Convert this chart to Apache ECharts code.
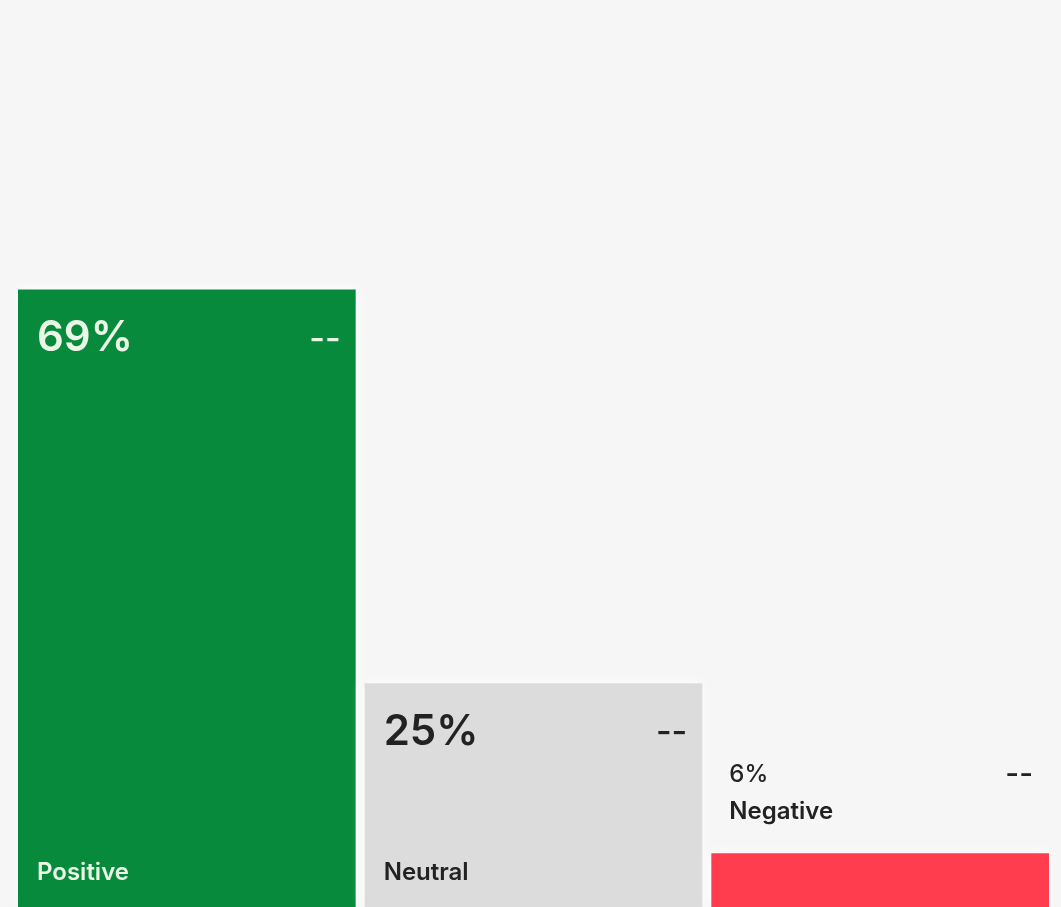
<!DOCTYPE html>
<html>
<head>
<meta charset="utf-8">
<title>Sentiment breakdown</title>
<script src="https://cdn.jsdelivr.net/npm/echarts@6/dist/echarts.min.js"></script>
<style>
  html, body { margin: 0; padding: 0; background: #f6f6f6; }
  #chart { width: 1061px; height: 907px; }
</style>
</head>
<body>
<div id="chart"></div>
<script>
// Sentiment categories and their shares (percent)
const categories = ['Positive', 'Neutral', 'Negative'];
const shares = [69, 25, 6];
const changeLabels = ['--', '--', '--'];

// Visual styling per category
const barColors = ['#078a3c', '#dcdcdc', '#ff3d4f'];
const textColors = ['#eaf6e6', '#222222', '#222222'];

const chart = echarts.init(document.getElementById('chart'), null, { renderer: 'canvas' });

const GAP = 9;          // space between neighbouring bars
const INSIDE_MIN = 120; // bars shorter than this carry their labels above

function renderBar(params, api) {
  const idx = api.value(0);
  const val = api.value(1);
  const base = api.coord([idx, 0]);
  const top = api.coord([idx, val]);
  const band = api.size([1, 0])[0];
  const w = band - GAP;
  const x = base[0] - w / 2;
  const h = base[1] - top[1];
  const color = barColors[idx];
  const tColor = textColors[idx];
  const font = 'Inter, "Noto Sans", sans-serif';

  const children = [{
    type: 'rect',
    shape: { x: x, y: top[1], width: w, height: h },
    style: { fill: color, shadowBlur: 12, shadowColor: 'rgba(255,255,255,1)' }
  }];

  const text = (tx, ty, str, f, align) => ({
    type: 'text',
    style: {
      x: tx, y: ty, text: str, fill: tColor, font: f + ' ' + font,
      textAlign: align, textVerticalAlign: 'middle'
    }
  });

  if (h > INSIDE_MIN) {
    children.push(text(x + 19, top[1] + 49, val + '%', '600 42px', 'left'));
    children.push(text(x + w - 15, top[1] + 50, changeLabels[idx], '500 34px', 'right'));
    children.push(text(x + 19, base[1] - 34, categories[idx], '600 24px', 'left'));
  } else {
    children.push(text(x + 18, top[1] - 79, val + '%', '500 24px', 'left'));
    children.push(text(x + w - 16, top[1] - 78, changeLabels[idx], '500 30px', 'right'));
    children.push(text(x + 18, top[1] - 42, categories[idx], '600 24px', 'left'));
  }
  return { type: 'group', children: children };
}

chart.setOption({
  backgroundColor: '#f6f6f6',
  animation: false,
  grid: { left: 13.5, right: 7.5, top: 12, bottom: 0 },
  xAxis: {
    type: 'category',
    data: categories,
    show: false
  },
  yAxis: {
    type: 'value',
    min: 0,
    max: 100,
    show: false
  },
  series: [{
    type: 'custom',
    renderItem: renderBar,
    encode: { x: 0, y: 1 },
    data: shares.map((v, i) => [i, v])
  }]
});
</script>
</body>
</html>
